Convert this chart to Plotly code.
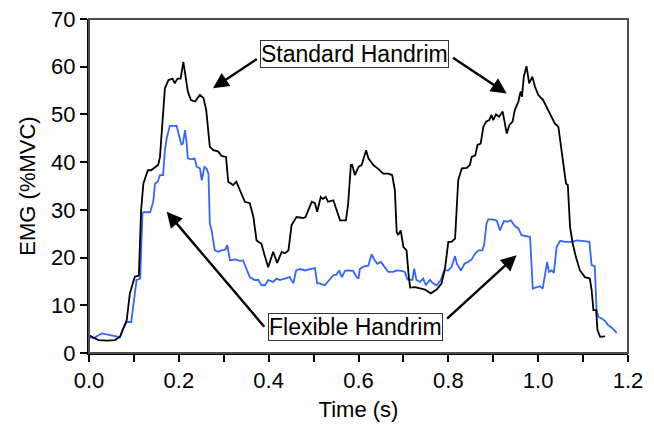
import plotly.graph_objects as go

# Standard handrim (black)
std_time = [0.000, 0.010, 0.021, 0.040, 0.058, 0.069, 0.084, 0.091, 0.102, 0.111, 0.116, 0.121, 0.131, 0.138,
            0.154, 0.158, 0.169, 0.177, 0.186, 0.191, 0.197, 0.204, 0.210, 0.214, 0.220, 0.227, 0.236, 0.247,
            0.255, 0.261, 0.269, 0.277, 0.288, 0.295, 0.305, 0.310, 0.321, 0.328, 0.336, 0.347, 0.358, 0.366,
            0.373, 0.384, 0.392, 0.399, 0.410, 0.419, 0.429, 0.436, 0.444, 0.451, 0.462, 0.477, 0.482, 0.496,
            0.503, 0.508, 0.516, 0.521, 0.527, 0.532, 0.544, 0.559, 0.572, 0.577, 0.583, 0.586, 0.592, 0.600,
            0.607, 0.617, 0.622, 0.633, 0.644, 0.655, 0.666, 0.675, 0.681, 0.685, 0.688, 0.694, 0.700, 0.707,
            0.712, 0.715, 0.726, 0.737, 0.748, 0.761, 0.774, 0.785, 0.793, 0.800, 0.807, 0.815, 0.819, 0.822,
            0.830, 0.841, 0.848, 0.852, 0.860, 0.865, 0.872, 0.878, 0.884, 0.891, 0.896, 0.900, 0.906, 0.913,
            0.921, 0.925, 0.930, 0.936, 0.943, 0.948, 0.956, 0.961, 0.964, 0.968, 0.974, 0.980, 0.987, 0.993,
            1.000, 1.011, 1.020, 1.030, 1.037, 1.045, 1.050, 1.056, 1.062, 1.066, 1.071, 1.077, 1.084, 1.093,
            1.104, 1.115, 1.119, 1.123, 1.129, 1.132, 1.138, 1.149]
std_emg = [3.7, 3.2, 2.7, 2.6, 2.7, 3.4, 6.9, 12.5, 16.0, 16.2, 29.9, 35.5, 38.3, 38.3,
           39.4, 41.1, 55.5, 57.2, 57.5, 56.5, 57.5, 57.5, 61.0, 58.6, 54.8, 53.0, 52.7, 54.1,
           53.4, 50.9, 43.2, 42.5, 42.2, 41.3, 41.1, 35.9, 35.2, 35.9, 34.1, 31.7, 31.4, 28.5,
           23.6, 22.9, 20.1, 18.0, 21.2, 18.9, 21.2, 20.9, 21.5, 26.8, 28.5, 28.3, 28.5, 31.7,
           31.4, 29.6, 32.7, 32.3, 32.7, 31.7, 32.0, 27.8, 27.8, 31.3, 39.4, 39.4, 37.3, 39.0,
           39.4, 42.5, 40.8, 39.4, 38.6, 37.6, 37.6, 37.3, 34.1, 25.4, 24.7, 25.7, 22.2, 21.5,
           15.9, 13.7, 13.8, 13.5, 13.3, 12.5, 13.3, 14.6, 18.0, 23.3, 23.3, 24.0, 31.3, 36.2,
           38.7, 38.8, 39.4, 41.1, 41.4, 43.6, 43.9, 47.4, 48.5, 48.8, 49.9, 48.8, 50.0, 49.5,
           50.6, 48.5, 46.0, 47.8, 48.5, 50.9, 52.7, 54.8, 53.7, 57.9, 60.1, 56.5, 57.9, 55.8,
           54.1, 53.0, 51.3, 49.5, 48.1, 47.4, 43.9, 40.4, 35.5, 35.2, 26.4, 22.9, 20.1, 17.3,
           15.9, 15.6, 13.2, 9.0, 9.0, 4.8, 3.4, 3.5]

# Flexible handrim (blue)
flex_time = [0.000, 0.010, 0.028, 0.043, 0.058, 0.069, 0.076, 0.084, 0.094, 0.099, 0.106, 0.114, 0.119, 0.121,
             0.136, 0.143, 0.147, 0.153, 0.158, 0.165, 0.169, 0.173, 0.180, 0.195, 0.200, 0.206, 0.209, 0.214,
             0.217, 0.220, 0.229, 0.235, 0.240, 0.247, 0.251, 0.257, 0.262, 0.266, 0.269, 0.273, 0.280, 0.288,
             0.295, 0.303, 0.308, 0.314, 0.325, 0.336, 0.343, 0.351, 0.358, 0.369, 0.377, 0.384, 0.392, 0.399,
             0.410, 0.418, 0.425, 0.436, 0.447, 0.455, 0.461, 0.470, 0.481, 0.492, 0.503, 0.508, 0.514, 0.525,
             0.536, 0.544, 0.551, 0.557, 0.563, 0.570, 0.577, 0.588, 0.596, 0.600, 0.603, 0.611, 0.622, 0.629,
             0.635, 0.642, 0.650, 0.659, 0.666, 0.677, 0.685, 0.696, 0.703, 0.709, 0.720, 0.724, 0.729, 0.737,
             0.744, 0.750, 0.759, 0.766, 0.774, 0.783, 0.791, 0.800, 0.807, 0.815, 0.819, 0.828, 0.836, 0.844,
             0.852, 0.859, 0.867, 0.876, 0.880, 0.885, 0.889, 0.898, 0.908, 0.915, 0.924, 0.931, 0.939, 0.948,
             0.956, 0.963, 0.974, 0.982, 0.988, 0.997, 1.004, 1.010, 1.015, 1.020, 1.024, 1.030, 1.035, 1.041,
             1.049, 1.060, 1.075, 1.086, 1.097, 1.108, 1.114, 1.119, 1.126, 1.130, 1.134, 1.142, 1.149, 1.156,
             1.164, 1.175]
flex_emg = [3.4, 3.1, 4.1, 3.8, 3.4, 3.3, 5.1, 6.5, 6.5, 10.4, 15.3, 15.6, 29.2, 29.5,
            29.5, 31.7, 35.5, 35.9, 37.3, 37.3, 42.5, 45.0, 47.6, 47.6, 46.0, 43.6, 43.9, 46.7,
            44.3, 40.8, 40.6, 40.8, 39.0, 38.7, 36.2, 39.0, 38.6, 37.5, 27.1, 25.7, 21.5, 21.2,
            21.5, 21.6, 22.6, 19.4, 19.6, 19.3, 19.4, 17.3, 15.9, 15.3, 15.3, 14.2, 14.2, 15.3,
            14.9, 15.6, 15.3, 15.6, 15.9, 14.6, 17.3, 17.6, 17.3, 17.6, 17.8, 14.6, 14.6, 14.2,
            15.3, 16.3, 16.4, 17.3, 15.9, 17.2, 17.3, 17.2, 15.9, 15.6, 17.6, 18.1, 18.3, 20.7,
            19.6, 18.7, 19.1, 18.0, 17.0, 17.0, 17.3, 17.2, 17.0, 15.4, 15.3, 17.7, 15.3, 14.9,
            15.6, 14.2, 15.3, 14.6, 14.2, 15.3, 17.3, 17.3, 18.0, 20.3, 18.7, 17.3, 18.7, 19.1,
            19.6, 20.8, 21.5, 21.5, 22.9, 27.1, 28.0, 28.0, 27.7, 25.7, 27.7, 27.5, 27.8, 26.6,
            26.1, 24.7, 24.5, 24.3, 13.5, 13.7, 14.0, 13.5, 15.9, 19.1, 17.0, 17.3, 16.8, 22.2,
            23.5, 23.3, 23.3, 23.6, 23.5, 23.4, 23.3, 18.4, 18.2, 9.0, 7.6, 7.2, 6.7, 5.8,
            5.3, 4.2]

x_tick_vals = [0.0, 0.2, 0.4, 0.6, 0.8, 1.0, 1.2]
x_tick_text = ["0.0", "0.2", "0.4", "0.6", "0.8", "1.0", "1.2"]
y_tick_vals = [0, 10, 20, 30, 40, 50, 60, 70]

FONT = "Liberation Sans, Arial, sans-serif"

fig = go.Figure()
fig.add_trace(go.Scatter(x=flex_time, y=flex_emg, mode="lines",
                         line=dict(color="#3366ff", width=1.8), name="Flexible Handrim"))
fig.add_trace(go.Scatter(x=std_time, y=std_emg, mode="lines",
                         line=dict(color="#000000", width=1.8), name="Standard Handrim"))

def arrow(x, y, ax, ay):
    fig.add_annotation(x=x, y=y, ax=ax, ay=ay, xref="x", yref="y", axref="x", ayref="y",
                       text="", showarrow=True, arrowhead=2, arrowsize=1.3, arrowwidth=2.4,
                       arrowcolor="black")

# Standard Handrim arrows
arrow(0.276, 55.5, 0.377, 61.8)
arrow(0.930, 54.4, 0.807, 62.1)
# Flexible Handrim arrows
arrow(0.173, 29.6, 0.393, 5.2)
arrow(0.952, 20.5, 0.794, 6.9)

fig.add_annotation(x=0.592, y=62.6, xref="x", yref="y", text="Standard Handrim", showarrow=False,
                   font=dict(family=FONT, size=23, color="black"), bgcolor="white",
                   bordercolor="#333333", borderwidth=1, borderpad=0)
fig.add_annotation(x=0.594, y=5.5, xref="x", yref="y", text="Flexible Handrim", showarrow=False,
                   font=dict(family=FONT, size=23, color="black"), bgcolor="white",
                   bordercolor="#333333", borderwidth=1, borderpad=0)

# plot frame (top/right in dark gray)
fig.add_shape(type="rect", xref="paper", yref="paper", x0=0, x1=1, y0=0, y1=1,
              line=dict(color="#4d4d4d", width=2), fillcolor="rgba(0,0,0,0)", layer="above")

fig.update_layout(
    width=654, height=427,
    margin=dict(l=89, r=26, t=19, b=74),
    paper_bgcolor="white", plot_bgcolor="white",
    showlegend=False,
    font=dict(family=FONT, size=22, color="black"),
    xaxis=dict(range=[0, 1.2], tickvals=x_tick_vals, ticktext=x_tick_text, automargin=False,
               ticks="outside", ticklen=7, tickwidth=1.5, tickcolor="black",
               minor=dict(dtick=0.1, tick0=0, ticks="outside", ticklen=7, tickwidth=1.5, tickcolor="black"),
               showline=True, linecolor="black", linewidth=2,
               showgrid=False, zeroline=False,
               tickfont=dict(size=22), title=dict(text="Time (s)", font=dict(size=22), standoff=9)),
    yaxis=dict(range=[0, 70], tickvals=y_tick_vals, automargin=False,
               ticks="outside", ticklen=7, tickwidth=1.5, tickcolor="black",
               showline=True, linecolor="black", linewidth=2,
               showgrid=False, zeroline=False,
               tickfont=dict(size=22), title=dict(text="EMG (%MVC)", font=dict(size=22), standoff=9)),
)

fig.write_html("out.html", config={"displayModeBar": False},
               post_script="document.body.style.margin='0';document.body.style.overflow='hidden';")
